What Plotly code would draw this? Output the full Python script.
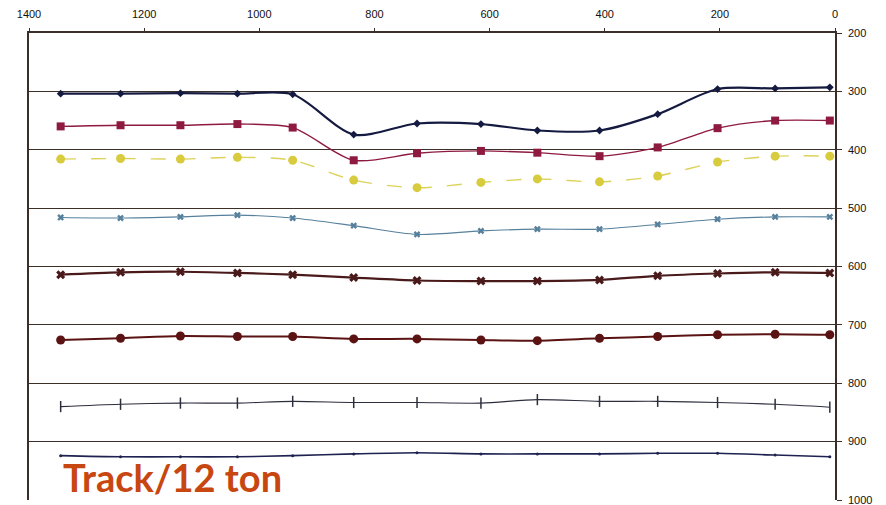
import plotly.graph_objects as go

# distance positions (x, reversed axis)
positions = [1345, 1241, 1137, 1038, 942, 836, 726, 615, 517, 409, 308, 204, 104, 9]

# depth readings per line
s1 = [304, 304, 303, 304, 305, 374, 355, 356, 367, 367, 339, 296, 295, 293]
s2 = [360, 358, 358, 356, 362, 418, 406, 402, 405, 411, 396, 363, 350, 350]
s3 = [416, 415, 416, 413, 418, 452, 465, 456, 450, 455, 445, 421, 411, 411]
s4 = [516, 517, 515, 512, 517, 530, 545, 539, 536, 536, 528, 519, 515, 515]
s5 = [614, 610, 609, 611, 614, 619, 624, 625, 625, 623, 616, 612, 610, 611]
s6 = [726, 723, 719, 720, 720, 724, 724, 726, 727, 723, 720, 717, 716, 717]
s7 = [840, 836, 834, 834, 831, 833, 833, 834, 828, 831, 831, 833, 836, 841]
s8 = [924, 926, 926, 926, 924, 921, 919, 921, 921, 921, 920, 920, 923, 926]

x_ticks = [1400, 1200, 1000, 800, 600, 400, 200, 0]
y_ticks = [200, 300, 400, 500, 600, 700, 800, 900, 1000]
annotation_text = "Track/12 ton"

styles = [
    (s1, "#151a40", 2.2, "solid", "diamond", 6, None, None),
    (s2, "#8e1a40", 1.4, "solid", "square", 8, None, None),
    (s3, "#dcd25a", 1.4, "longdash", "circle", 9, None, "#d8cc3e"),
    (s4, "#56809c", 1.1, "solid", "x", 6, None, None),
    (s5, "#4a1a1a", 2.2, "solid", "x", 8, None, None),
    (s6, "#5a1212", 2.0, "solid", "circle", 9, None, None),
    (s7, "#2c2e3c", 1.1, "solid", "line-ns-open", 8, 1.5, None),
    (s8, "#1e2250", 1.6, "solid", "circle", 3, None, None),
]

fig = go.Figure()
for ys, color, lw, dash, sym, size, mlw, mcolor in styles:
    mc = mcolor or color
    marker = dict(symbol=sym, size=size, color=mc)
    if mlw:
        marker["line"] = dict(width=mlw, color=mc)
    fig.add_trace(go.Scatter(
        x=positions, y=ys, mode="lines+markers",
        line=dict(color=color, width=lw, dash=dash, shape="spline", smoothing=0.8),
        marker=marker, showlegend=False, cliponaxis=False,
    ))

fig.add_annotation(
    x=0.04, y=-0.004, xref="paper", yref="paper", xanchor="left", yanchor="bottom",
    text="<b>" + annotation_text + "</b>", showarrow=False,
    font=dict(family="Lato", size=38, color="#c8460f"),
)

axis_font = dict(family="Liberation Sans", size=11, color="#111111")
fig.update_layout(
    width=886, height=505,
    margin=dict(l=21, r=59, t=25, b=13, autoexpand=False),
    paper_bgcolor="white", plot_bgcolor="white",
    xaxis=dict(
        range=[1400, 0], side="top", tickvals=x_ticks,
        showgrid=False, zeroline=False, automargin=False,
        showline=True, linecolor="#3a2e28", linewidth=1.5,
        ticks="outside", ticklen=3, tickcolor="#3a2e28",
        tickfont=axis_font, ticklabelstandoff=6,
    ),
    yaxis=dict(
        range=[1000, 200], side="right", tickvals=y_ticks,
        showgrid=True, gridcolor="#3b2f28", gridwidth=1.4,
        zeroline=False, showline=True, mirror=True, automargin=False,
        linecolor="#3a2e28", linewidth=1.5,
        ticks="outside", ticklen=5, tickcolor="#3a2e28",
        tickfont=axis_font, ticklabelstandoff=4,
    ),
)

fig.write_html("out.html")
